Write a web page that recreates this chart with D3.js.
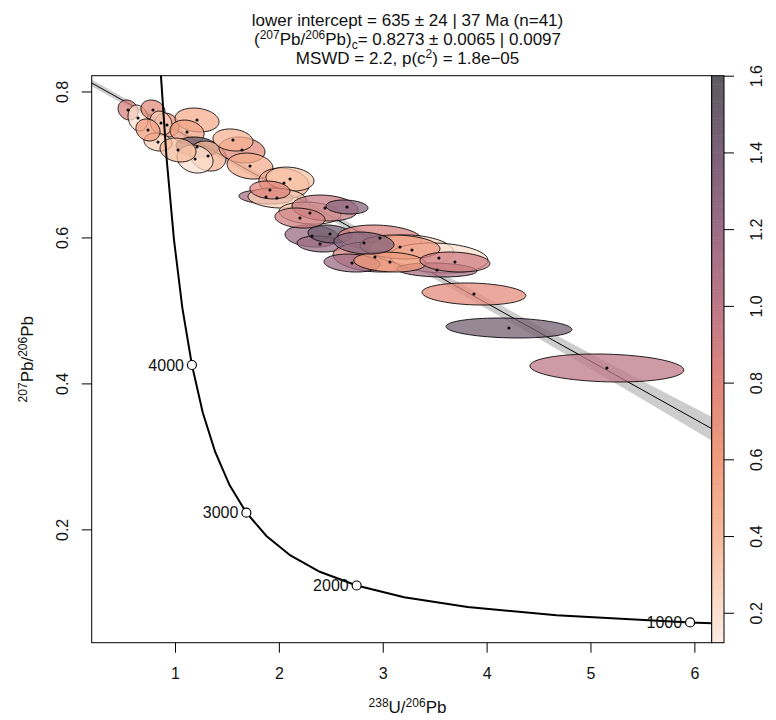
<!DOCTYPE html>
<html>
<head>
<meta charset="utf-8">
<script src="https://cdn.jsdelivr.net/npm/d3@7"></script>
<style>
body { margin: 0; background: #fff; }
text { font-family: "Liberation Sans", Arial, sans-serif; fill: #111; }
</style>
</head>
<body>
<svg width="776" height="720"></svg>
<script>
// ---- data ----
var xTicks = [1, 2, 3, 4, 5, 6];
var yTicks = [0.2, 0.4, 0.6, 0.8];
var colourTicks = [0.2, 0.4, 0.6, 0.8, 1.0, 1.2, 1.4, 1.6];

// error ellipses: centre, half extents and colour value
var ellX  = [0.548,0.644,0.788,0.923,0.865,0.836,1.212,1.116,1.212,1.318,1.193,1.645,1.722,2.049,2.107,1.876,1.982,2.299,2.444,2.656,2.319,2.396,2.492,2.973,2.925,2.704,3.281,3.541,3.522,3.878,4.215,5.158,3.166,3.069,3.695,2.819,2.203,1.558,0.740,1.029,1.914];
var ellY  = [0.7746,0.7636,0.7746,0.7540,0.7567,0.7307,0.7609,0.7444,0.7239,0.7115,0.7074,0.7198,0.6978,0.6745,0.6800,0.6554,0.6540,0.6334,0.6403,0.6417,0.6019,0.5910,0.6047,0.5992,0.5732,0.5649,0.5828,0.5718,0.5554,0.5225,0.4759,0.4211,0.5869,0.5663,0.5663,0.5923,0.6266,0.7335,0.7472,0.7198,0.6650];
var ellSX = [0.096,0.096,0.116,0.116,0.106,0.135,0.212,0.164,0.202,0.173,0.173,0.221,0.221,0.241,0.231,0.260,0.279,0.298,0.318,0.202,0.260,0.221,0.212,0.404,0.404,0.270,0.404,0.472,0.385,0.500,0.606,0.741,0.385,0.347,0.337,0.289,0.241,0.193,0.116,0.173,0.193];
var ellSY = [0.0137,0.0178,0.0137,0.0164,0.0164,0.0123,0.0164,0.0164,0.0137,0.0206,0.0192,0.0178,0.0178,0.0206,0.0164,0.0096,0.0137,0.0151,0.0178,0.0096,0.0151,0.0110,0.0123,0.0178,0.0206,0.0123,0.0206,0.0206,0.0096,0.0151,0.0137,0.0192,0.0164,0.0137,0.0137,0.0151,0.0137,0.0151,0.0151,0.0164,0.0123];
var ellC  = [0.85,0.2,0.75,0.7,0.3,0.3,0.5,0.55,1.5,0.45,0.2,0.75,0.5,0.5,0.35,1.1,0.3,0.3,0.95,1.3,1.2,1.2,1.5,0.85,0.85,1.2,0.25,0.2,1.1,0.75,1.45,1.0,0.65,0.6,0.9,1.35,0.9,0.45,0.6,0.4,0.8];
var ellRho = -0.15;

// concordia vertices (age in Ma)
var concAge = [950,1000,1250,1500,1750,2000,2250,2500,2750,3000,3250,3500,3750,4000,4250,4500,4750,5000];
var concX = [6.298,5.959,4.673,3.817,3.206,2.749,2.394,2.111,1.880,1.687,1.525,1.387,1.267,1.163,1.071,0.990,0.918,0.853];
var concY = [0.0708,0.0725,0.0822,0.0936,0.1071,0.1231,0.1419,0.1643,0.1910,0.2228,0.2607,0.3060,0.3602,0.4252,0.5032,0.5970,0.7098,0.8457];
var markAge = [1000, 2000, 3000, 4000];

// discordia: common Pb intercept and lower intercept on concordia
var commonPb = 0.8273;
var lowerX = 9.660, lowerY = 0.0609;
var bandX = [0, 1, 2, 3, 4, 5, 6.3];
var bandHalf = [0.0048, 0.0044, 0.0048, 0.0058, 0.0076, 0.0105, 0.0170];

// colour ramp
var colourStops = [0.12, 0.4, 0.6, 0.8, 1.0, 1.2, 1.4, 1.6];
var colourValues = ['#fdeee4', '#f7bb9c', '#f09c7d', '#e0867c', '#bd7887', '#9c6c86', '#7b6178', '#5e5b62'];

// ---- layout ----
const plotLeft = 91.7, plotRight = 711.7, plotTop = 75.7, plotBottom = 642.7;
const barRight = 724;

var svg = d3.select('svg');

var xScale = d3.scaleLinear().domain([0.198, 6.167]).range([plotLeft, plotRight]);
var yScale = d3.scaleLinear().domain([0.0447, 0.8216]).range([plotBottom, plotTop]);
var colourScale = d3.scaleLinear().domain(colourStops).range(colourValues);
var barScale = d3.scaleLinear().domain([0.122, 1.6]).range([plotBottom, plotTop]);

svg.append('clipPath').attr('id', 'plotclip')
    .append('rect')
    .attr('x', plotLeft).attr('y', plotTop)
    .attr('width', plotRight - plotLeft).attr('height', plotBottom - plotTop);

var plot = svg.append('g').attr('clip-path', 'url(#plotclip)');

// confidence band
var band = d3.area()
    .x((d, i) => xScale(d))
    .y0((d, i) => yScale(commonPb + (lowerY - commonPb) * d / lowerX - bandHalf[i]))
    .y1((d, i) => yScale(commonPb + (lowerY - commonPb) * d / lowerX + bandHalf[i]))
    .curve(d3.curveMonotoneX);

plot.append('path')
    .datum(bandX)
    .attr('d', band)
    .attr('fill', '#c4c4c4')
    .attr('fill-opacity', 0.85);

// discordia line
plot.append('line')
    .attr('x1', xScale(0)).attr('y1', yScale(commonPb))
    .attr('x2', xScale(lowerX)).attr('y2', yScale(lowerY))
    .attr('stroke', '#000')
    .attr('stroke-width', 1);

// ellipses
function ellipsePoints(i) {
    var pts = [];
    var s = Math.sqrt(1 - ellRho * ellRho);
    for (var k = 0; k < 72; k++) {
        var a = k / 72 * 2 * Math.PI;
        var px = ellX[i] + ellSX[i] * Math.cos(a);
        var py = ellY[i] + ellSY[i] * (ellRho * Math.cos(a) + s * Math.sin(a));
        pts.push([xScale(px), yScale(py)]);
    }
    return pts;
}

var ellLine = d3.line().curve(d3.curveLinearClosed);

plot.selectAll('path.ell')
    .data(d3.range(ellX.length))
    .enter()
    .append('path')
        .attr('class', 'ell')
        .attr('d', (i) => ellLine(ellipsePoints(i)))
        .attr('fill', (i) => colourScale(ellC[i]))
        .attr('fill-opacity', 0.75)
        .attr('stroke', '#000')
        .attr('stroke-opacity', 0.85)
        .attr('stroke-width', 1);

plot.selectAll('circle.dot')
    .data(d3.range(ellX.length))
    .enter()
    .append('circle')
        .attr('class', 'dot')
        .attr('cx', (i) => xScale(ellX[i]))
        .attr('cy', (i) => yScale(ellY[i]))
        .attr('r', 1.5)
        .attr('fill', '#000');

// concordia
var concLine = d3.line()
    .x((d, i) => xScale(concX[i]))
    .y((d, i) => yScale(concY[i]));

plot.append('path')
    .datum(concAge)
    .attr('d', concLine)
    .attr('fill', 'none')
    .attr('stroke', '#000')
    .attr('stroke-width', 2);

var marks = markAge.map(function(a) {
    var j = concAge.indexOf(a);
    return {age: a, x: concX[j], y: concY[j]};
});

plot.selectAll('text.age')
    .data(marks)
    .enter()
    .append('text')
        .attr('class', 'age')
        .attr('x', (d) => xScale(d.x) - 8)
        .attr('y', (d) => yScale(d.y))
        .attr('dy', '0.35em')
        .attr('text-anchor', 'end')
        .style('font-size', '16px')
        .text((d) => d.age);

plot.selectAll('circle.age')
    .data(marks)
    .enter()
    .append('circle')
        .attr('class', 'age')
        .attr('cx', (d) => xScale(d.x))
        .attr('cy', (d) => yScale(d.y))
        .attr('r', 4.5)
        .attr('fill', '#fff')
        .attr('stroke', '#000')
        .attr('stroke-width', 1.2);

// box
svg.append('rect')
    .attr('x', plotLeft).attr('y', plotTop)
    .attr('width', plotRight - plotLeft).attr('height', plotBottom - plotTop)
    .attr('fill', 'none')
    .attr('stroke', '#000')
    .attr('stroke-width', 1);

// axes
var xAxis = svg.append('g')
    .attr('transform', `translate(0, ${plotBottom})`)
    .call(d3.axisBottom(xScale).tickValues(xTicks).tickSize(10).tickFormat(d3.format('d')));
xAxis.select('.domain').remove();
xAxis.selectAll('text').attr('y', 25).style('font-size', '16px').attr('fill', '#111');

var yAxis = svg.append('g')
    .attr('transform', `translate(${plotLeft}, 0)`)
    .call(d3.axisLeft(yScale).tickValues(yTicks).tickSize(10).tickFormat(d3.format('.1f')));
yAxis.select('.domain').remove();
yAxis.selectAll('text')
    .attr('x', 0).attr('y', -24).attr('dy', 0)
    .attr('text-anchor', 'middle')
    .attr('transform', 'rotate(-90)')
    .style('font-size', '16px')
    .attr('fill', '#111');

// colour bar
var barMin = barScale.domain()[0], barMax = barScale.domain()[1];
var steps = d3.range(0, 200);
var stepH = (barMax - barMin) / steps.length;
svg.append('g').selectAll('rect')
    .data(steps)
    .enter()
    .append('rect')
        .attr('x', plotRight)
        .attr('y', (d) => barScale(barMin + (d + 1) * stepH))
        .attr('width', barRight - plotRight)
        .attr('height', (d) => barScale(barMin) - barScale(barMin + stepH) + 0.6)
        .attr('fill', (d) => colourScale(barMin + (d + 0.5) * stepH));

svg.append('rect')
    .attr('x', plotRight).attr('y', plotTop)
    .attr('width', barRight - plotRight).attr('height', plotBottom - plotTop)
    .attr('fill', 'none')
    .attr('stroke', '#000')
    .attr('stroke-width', 1);

var cAxis = svg.append('g')
    .attr('transform', `translate(${barRight}, 0)`)
    .call(d3.axisRight(barScale).tickValues(colourTicks).tickSize(10).tickFormat(d3.format('.1f')));
cAxis.select('.domain').remove();
cAxis.selectAll('text')
    .attr('x', 0).attr('y', 38).attr('dy', 0)
    .attr('text-anchor', 'middle')
    .attr('transform', 'rotate(-90)')
    .style('font-size', '16px')
    .attr('fill', '#111');

// rich text helper: parts are [text, 'sup'|'sub'|undefined]
function richText(sel, parts, size) {
    var small = Math.round(size * 0.72);
    var shift = 0;
    parts.forEach(function(p) {
        var t = sel.append('tspan').text(p[0]);
        var target = p[1] === 'sup' ? -size * 0.38 : p[1] === 'sub' ? size * 0.25 : 0;
        if (target !== shift) t.attr('dy', target - shift);
        if (p[1]) t.style('font-size', small + 'px');
        shift = target;
    });
}

var cx = 407.5;

svg.append('text')
    .attr('x', cx).attr('y', 26)
    .attr('text-anchor', 'middle')
    .style('font-size', '17px')
    .text('lower intercept = 635 \u00b1 24 | 37 Ma (n=41)');

richText(svg.append('text')
    .attr('x', cx).attr('y', 45)
    .attr('text-anchor', 'middle')
    .style('font-size', '17px'),
    [['('], ['207', 'sup'], ['Pb/'], ['206', 'sup'], ['Pb)'], ['c', 'sub'], ['= 0.8273 \u00b1 0.0065 | 0.0097']], 17);

richText(svg.append('text')
    .attr('x', cx).attr('y', 64)
    .attr('text-anchor', 'middle')
    .style('font-size', '17px'),
    [['MSWD = 2.2, p(c'], ['2', 'sup'], [') = 1.8e\u221205']], 17);

// axis titles
richText(svg.append('text')
    .attr('x', cx).attr('y', 713)
    .attr('text-anchor', 'middle')
    .style('font-size', '17px'),
    [['238', 'sup'], ['U/'], ['206', 'sup'], ['Pb']], 17);

richText(svg.append('text')
    .attr('transform', `translate(33, ${(plotTop + plotBottom) / 2}) rotate(-90)`)
    .attr('text-anchor', 'middle')
    .style('font-size', '17px'),
    [['207', 'sup'], ['Pb/'], ['206', 'sup'], ['Pb']], 17);
</script>
</body>
</html>
